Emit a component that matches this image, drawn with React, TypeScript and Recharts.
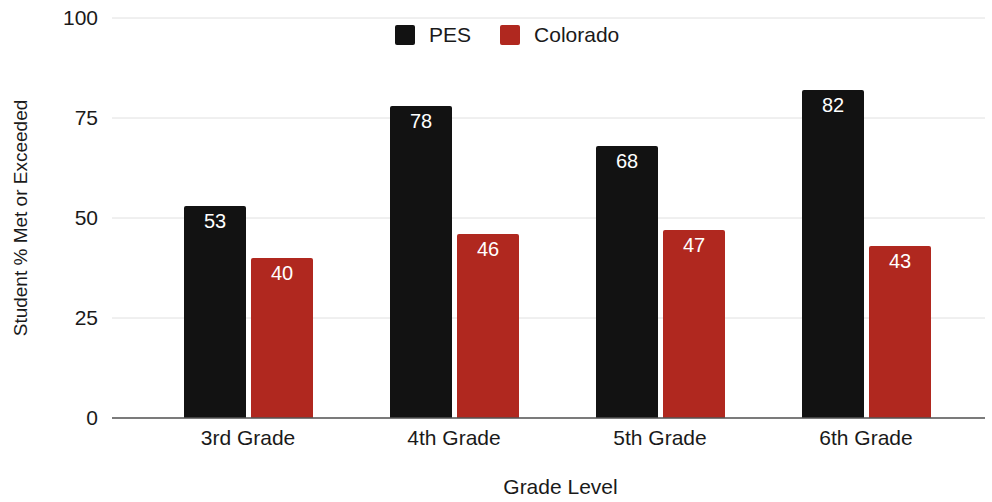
import { BarChart, Bar, XAxis, YAxis, CartesianGrid, LabelList } from "recharts";

const grades = ["3rd Grade", "4th Grade", "5th Grade", "6th Grade"];
const pesScores = [53, 78, 68, 82];
const coloradoScores = [40, 46, 47, 43];
const yTicks = [0, 25, 50, 75, 100];

const PES_COLOR = "#121212";
const CO_COLOR = "#b0281f";

const data = grades.map((grade, i) => ({
  grade,
  PES: pesScores[i],
  Colorado: coloradoScores[i],
}));

const legendItems = [
  { name: "PES", color: PES_COLOR },
  { name: "Colorado", color: CO_COLOR },
];

// legend drawn by hand over the chart so it doesn't shrink the plot
const TopLegend = () => (
  <div
    style={{
      position: "absolute",
      top: 25,
      left: 395,
      display: "flex",
      alignItems: "center",
      height: 20,
    }}
  >
    {legendItems.map((item, i) => (
      <div
        key={item.name}
        style={{ display: "flex", alignItems: "center", marginRight: i === 0 ? 29 : 0 }}
      >
        <span
          style={{
            width: 20,
            height: 20,
            background: item.color,
            borderRadius: 2,
            display: "inline-block",
            marginRight: 14,
          }}
        />
        <span style={{ fontSize: 21, color: "#1a1a1a", lineHeight: "20px" }}>{item.name}</span>
      </div>
    ))}
  </div>
);

const App = () => {
  return (
    <div
      style={{
        position: "absolute",
        top: 0,
        left: 0,
        width: 992,
        height: 502,
        background: "#fff",
        fontFamily: "'Liberation Sans', Arial, sans-serif",
      }}
    >
      <BarChart
        width={992}
        height={502}
        data={data}
        margin={{ top: 18, right: 7, left: 0, bottom: 54 }}
        barGap={5}
        barSize={62}
      >
        <CartesianGrid vertical={false} stroke="#e0e0e0" />
        <XAxis
          dataKey="grade"
          height={30}
          padding={{ left: 33, right: 16 }}
          axisLine={{ stroke: "#555", strokeWidth: 1.5 }}
          tickLine={false}
          tickSize={0}
          tickMargin={12}
          tick={{ fill: "#1a1a1a", fontSize: 21 }}
          label={{ value: "Grade Level", position: "bottom", offset: 31, dx: 12, fill: "#1a1a1a", fontSize: 21 }}
        />
        <YAxis
          width={112}
          domain={[0, 100]}
          ticks={yTicks}
          axisLine={false}
          tickLine={false}
          tickSize={0}
          tickMargin={14}
          tick={{ fill: "#1a1a1a", fontSize: 21 }}
          label={{
            value: "Student % Met or Exceeded",
            angle: -90,
            position: "insideLeft",
            offset: 20,
            style: { textAnchor: "middle" },
            fill: "#1a1a1a",
            fontSize: 19,
          }}
        />
        <Bar dataKey="PES" fill={PES_COLOR} radius={[2, 2, 0, 0]} isAnimationActive={false}>
          <LabelList dataKey="PES" position="insideTop" offset={8} fill="#fff" fontSize={20} />
        </Bar>
        <Bar dataKey="Colorado" fill={CO_COLOR} radius={[2, 2, 0, 0]} isAnimationActive={false}>
          <LabelList dataKey="Colorado" position="insideTop" offset={8} fill="#fff" fontSize={20} />
        </Bar>
      </BarChart>
      <TopLegend />
    </div>
  );
};

export default App;
